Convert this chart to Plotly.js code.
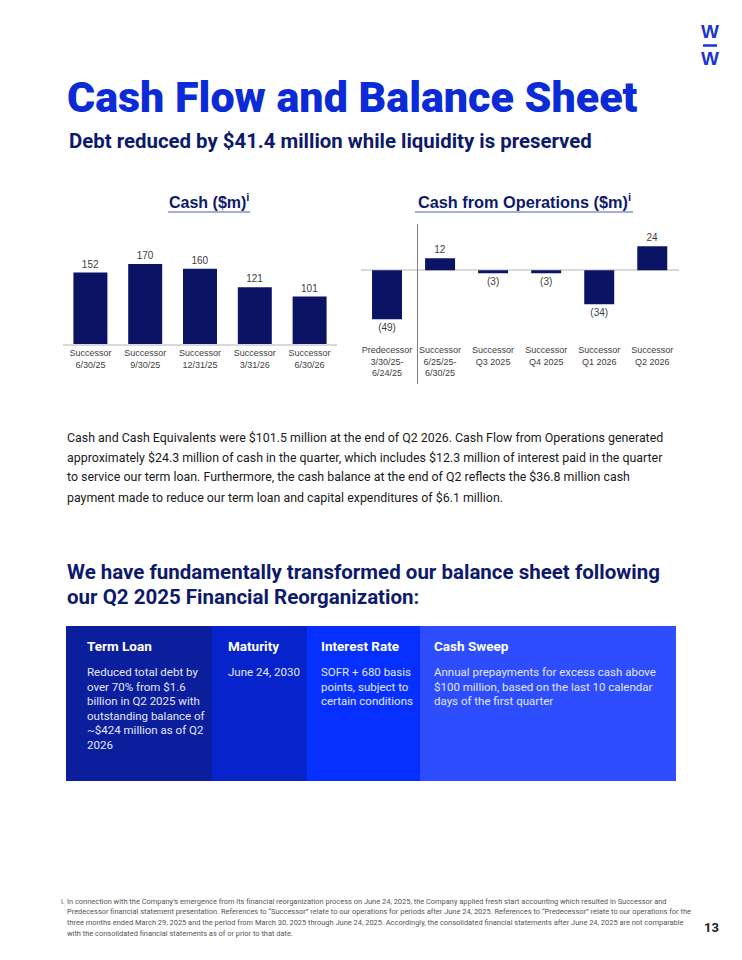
<!DOCTYPE html>
<html>
<head>
<meta charset="utf-8">
<script src="https://cdn.plot.ly/plotly-3.0.1.min.js"></script>
<style>html,body{margin:0;padding:0;background:#fff;}#chart{width:742px;height:960px;}</style>
</head>
<body>
<div id="chart"></div>
<script>
// ---------- DATA ----------
const cashCategories = ["Successor<br>6/30/25", "Successor<br>9/30/25", "Successor<br>12/31/25", "Successor<br>3/31/26", "Successor<br>6/30/26"];
const cashValues = [152, 170, 160, 121, 101];

const cfoCategories = ["Predecessor<br>3/30/25-<br>6/24/25", "Successor<br>6/25/25-<br>6/30/25", "Successor<br>Q3 2025", "Successor<br>Q4 2025", "Successor<br>Q1 2026", "Successor<br>Q2 2026"];
const cfoValues = [-49, 12, -3, -3, -34, 24];

const pageTitle = "Cash Flow and Balance Sheet";
const pageSubtitle = "Debt reduced by $41.4 million while liquidity is preserved";
const cashTitle = "Cash ($m)";
const cfoTitle = "Cash from Operations ($m)";
const paragraphLines = [
  "Cash and Cash Equivalents were $101.5 million at the end of Q2 2026. Cash Flow from Operations generated",
  "approximately $24.3 million of cash in the quarter, which includes $12.3 million of interest paid in the quarter",
  "to service our term loan. Furthermore, the cash balance at the end of Q2 reflects the $36.8 million cash",
  "payment made to reduce our term loan and capital expenditures of $6.1 million."
];
const heading2Lines = [
  "We have fundamentally transformed our balance sheet following",
  "our Q2 2025 Financial Reorganization:"
];
const tableHeaders = ["Term Loan", "Maturity", "Interest Rate", "Cash Sweep"];
const tableBodies = [
  ["Reduced total debt by", "over 70% from $1.6", "billion in Q2 2025 with", "outstanding balance of", "~$424 million as of Q2", "2026"],
  ["June 24, 2030"],
  ["SOFR + 680 basis", "points, subject to", "certain conditions"],
  ["Annual prepayments for excess cash above", "$100 million, based on the last 10 calendar", "days of the first quarter"]
];
const footnoteLines = [
  "In connection with the Company\u2019s emergence from its financial reorganization process on June 24, 2025, the Company applied fresh start accounting which resulted in Successor and",
  "Predecessor financial statement presentation. References to \u201cSuccessor\u201d relate to our operations for periods after June 24, 2025. References to \u201cPredecessor\u201d relate to our operations for the",
  "three months ended March 29, 2025 and the period from March 30, 2025 through June 24, 2025. Accordingly, the consolidated financial statements after June 24, 2025 are not comparable",
  "with the consolidated financial statements as of or prior to that date."
];
const pageNumber = "13";

// ---------- STYLE / LAYOUT HELPERS ----------
const W = 742, H = 960;
const px = x => x / W;
const py = y => 1 - y / H;
const NAVY_BAR = "#0b1464";
const NAVY_TEXT = "#0d1a6b";
const BRIGHT = "#0b2bd6";
const GREY = "#404040";
const HEAD = "Roboto, 'Liberation Sans', sans-serif";
const BODY = "Roboto, 'Liberation Sans', sans-serif";
const CHART = "'Liberation Sans', Arial, sans-serif";

const fmt = v => v < 0 ? "(" + Math.abs(v) + ")" : String(v);

const traces = [
  {
    type: "bar", x: cashCategories, y: cashValues, xaxis: "x", yaxis: "y",
    width: 0.62,
    marker: {color: NAVY_BAR}, text: cashValues.map(fmt), textposition: "outside",
    textfont: {family: CHART, size: 10, color: GREY}, cliponaxis: false, hoverinfo: "skip"
  },
  {
    type: "bar", x: cfoCategories, y: cfoValues, xaxis: "x2", yaxis: "y2",
    width: 0.565,
    marker: {color: NAVY_BAR}, text: cfoValues.map(fmt), textposition: "outside",
    textfont: {family: CHART, size: 10, color: GREY}, cliponaxis: false, hoverinfo: "skip"
  }
];

const annotations = [];
const shapes = [];
function ann(text, x, y, opts) {
  annotations.push(Object.assign({
    text: text, xref: "paper", yref: "paper", x: px(x), y: py(y),
    xanchor: "left", yanchor: "middle", showarrow: false, align: "left"
  }, opts));
}

// Logo
const LOGO_FONT = {family: "'Liberation Sans Narrow', 'Liberation Sans', sans-serif", size: 19, weight: 700, color: "#1a35d4"};
ann("W", 710, 32, {xanchor: "center", font: LOGO_FONT});
ann("W", 710, 58, {xanchor: "center", font: LOGO_FONT});
shapes.push({type: "line", xref: "paper", yref: "paper", x0: px(703), x1: px(717), y0: py(45.5), y1: py(45.5), line: {color: "#1a35d4", width: 2.5}});

// Titles
ann(pageTitle, 65, 97, {font: {family: HEAD, size: 43, weight: 900, color: BRIGHT}});
ann(pageSubtitle, 67, 140.5, {font: {family: HEAD, size: 20.4, weight: 700, color: NAVY_TEXT}});

// Chart titles
ann("<b>" + cashTitle + "<sup>i</sup></b>", 209, 201, {xanchor: "center", font: {family: CHART, size: 16, color: NAVY_TEXT}});
ann("<b>" + cfoTitle + "<sup>i</sup></b>", 524, 201, {xanchor: "center", font: {family: CHART, size: 16.3, color: NAVY_TEXT}});
shapes.push({type: "line", xref: "paper", yref: "paper", x0: px(168), x1: px(250), y0: py(212), y1: py(212), line: {color: "#8790c8", width: 1.5}});
shapes.push({type: "line", xref: "paper", yref: "paper", x0: px(415), x1: px(633), y0: py(212), y1: py(212), line: {color: "#8790c8", width: 1.5}});

// Separator between predecessor and successor
shapes.push({type: "line", xref: "paper", yref: "paper", x0: px(417.5), x1: px(417.5), y0: py(224), y1: py(384), line: {color: "#7f7f7f", width: 1}});

// Paragraph
paragraphLines.forEach((t, i) => ann(t, 65, 437 + i * 20, {font: {family: BODY, size: 12.4, color: "#1a1a1a"}}));

// Heading 2
heading2Lines.forEach((t, i) => ann(t, 65, 572 + i * 25, {font: {family: HEAD, size: 20.5, weight: 700, color: NAVY_TEXT}}));

// Table
const colEdges = [66, 212, 307, 420, 676];
const colFills = ["#0b1e9b", "#0623cc", "#0530ff", "#2d4dff"];
const colPad = [19, 14, 12, 12];
for (let c = 0; c < 4; c++) {
  shapes.push({type: "rect", xref: "paper", yref: "paper", x0: px(colEdges[c]), x1: px(colEdges[c + 1]), y0: py(781), y1: py(626), line: {width: 0}, fillcolor: colFills[c], layer: "below"});
  ann(tableHeaders[c], colEdges[c] + colPad[c], 646, {font: {family: HEAD, size: 13.5, weight: 700, color: "#ffffff"}});
  tableBodies[c].forEach((t, i) => ann(t, colEdges[c] + colPad[c], 672 + i * 14.6, {font: {family: BODY, size: 11.5, color: "#e3e7ff"}}));
}

// Footnote
const FN_FONT = {family: BODY, size: 7.45, color: "#555555"};
ann("i.", 59, 901, {font: FN_FONT});
footnoteLines.forEach((t, i) => ann(t, 65, 901 + i * 10.7, {font: FN_FONT}));
ann(pageNumber, 711, 927, {xanchor: "center", font: {family: HEAD, size: 13, weight: 700, color: "#222222"}});

const layout = {
  width: W, height: H, margin: {l: 0, r: 0, t: 0, b: 0},
  paper_bgcolor: "#ffffff", plot_bgcolor: "rgba(0,0,0,0)",
  showlegend: false, hovermode: false,
  xaxis: {
    domain: [px(63), px(337)], anchor: "y", type: "category",
    showline: true, linecolor: "#d9d9d9", linewidth: 1.5,
    ticks: "", tickfont: {family: CHART, size: 9, color: GREY}, fixedrange: true
  },
  yaxis: {
    domain: [py(344), py(250)], anchor: "x", range: [0, 200],
    visible: false, fixedrange: true
  },
  xaxis2: {
    domain: [px(360.5), px(678.8)], anchor: "y2", type: "category",
    showline: false, ticks: "", tickfont: {family: CHART, size: 9, color: GREY}, fixedrange: true
  },
  yaxis2: {
    domain: [py(343), py(235.3)], anchor: "x2", range: [-72.7, 35],
    showgrid: false, showticklabels: false, zeroline: true, zerolinecolor: "#d9d9d9", zerolinewidth: 2,
    fixedrange: true
  },
  annotations: annotations,
  shapes: shapes
};

Plotly.newPlot("chart", traces, layout, {displayModeBar: false, staticPlot: true});
</script>
</body>
</html>
